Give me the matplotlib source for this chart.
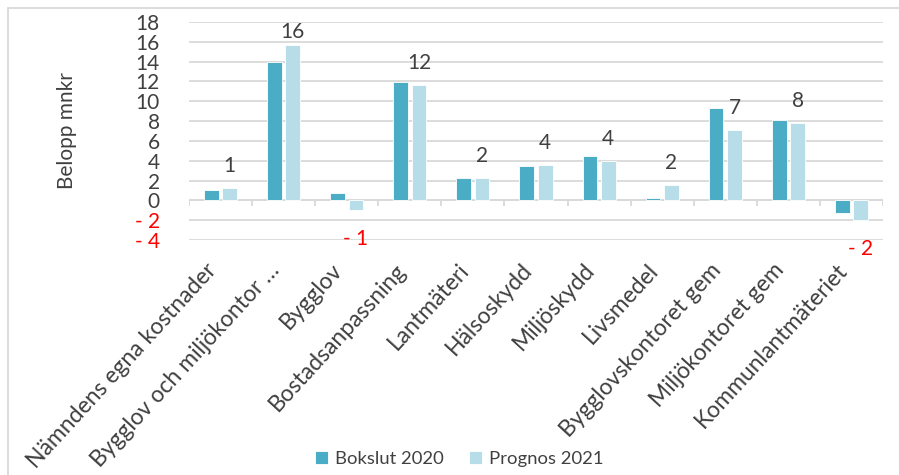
import matplotlib
matplotlib.use('Agg')
import matplotlib.pyplot as plt
import matplotlib.patches as mpatches
import numpy as np

plt.rcParams['font.family'] = ['Lato', 'DejaVu Sans']

# Data (mnkr)
categories = ['Nämndens egna kostnader', 'Bygglov och miljökontor …', 'Bygglov',
              'Bostadsanpassning', 'Lantmäteri', 'Hälsoskydd', 'Miljöskydd',
              'Livsmedel', 'Bygglovskontoret gem', 'Miljökontoret gem',
              'Kommunlantmäteriet']
bokslut_2020 = [1.08, 13.97, 0.78, 11.95, 2.22, 3.50, 4.44, 0.20, 9.36, 8.08, -1.24]
prognos_2021 = [1.28, 15.70, -0.94, 11.68, 2.29, 3.57, 3.94, 1.52, 7.10, 7.80, -1.95]
y_ticks = [-4, -2, 0, 2, 4, 6, 8, 10, 12, 14, 16, 18]
y_tick_labels = ['- 4', '- 2', '0', '2', '4', '6', '8', '10', '12', '14', '16', '18']

c_bokslut = '#4BACC6'
c_prognos = '#B7DEE8'
txt = '#404040'
grid_c = '#D9D9D9'

fig = plt.figure(figsize=(8.99, 4.75), dpi=100)
ax = fig.add_axes([189 / 899, 1 - 240 / 475, 694 / 899, 218 / 475])

x = np.arange(len(categories))
w = 0.233
off = 0.146
ax.bar(x - off, bokslut_2020, w, color=c_bokslut, edgecolor='white', linewidth=0.6,
       label='Bokslut 2020', zorder=3)
ax.bar(x + off, prognos_2021, w, color=c_prognos, edgecolor='white', linewidth=0.6,
       label='Prognos 2021', zorder=3)

ax.set_xlim(-0.5, len(categories) - 0.5)
ax.set_ylim(-4, 18)
ax.set_yticks(y_ticks)
ax.set_yticklabels(y_tick_labels)
for lab, v in zip(ax.get_yticklabels(), y_ticks):
    lab.set_color('red' if v < 0 else txt)
ax.tick_params(axis='y', length=0, pad=21, labelsize=15)
ax.yaxis.grid(True, color=grid_c, linewidth=1.3, zorder=0)
ax.set_axisbelow(True)
for s in ax.spines.values():
    s.set_visible(False)

# zero line with category separators
ax.axhline(0, color=grid_c, linewidth=1.3, zorder=2)
bounds = np.arange(len(categories) + 1) - 0.5
ax.vlines(bounds, -0.6, 0, color=grid_c, linewidth=1.3, zorder=2)

ax.set_xticks(x)
ax.set_xticklabels(categories, rotation=47.5, ha='right', va='top',
                   fontsize=16.5, color=txt)
ax.tick_params(axis='x', length=0, pad=14)

ax.set_ylabel('Belopp mnkr', fontsize=15, color=txt)
ax.yaxis.set_label_coords(-0.161, 0.5)

# data labels (rounded forecast), kept inside the plot area like Excel does
ytop = ax.get_ylim()[1]
for xi, v in zip(x, prognos_2021):
    r = int(round(v))
    if r < 0:
        ax.annotate(f'- {abs(r)}', (xi + off, v), xytext=(0, -14),
                    textcoords='offset points', ha='center', va='top',
                    fontsize=15, color='red')
    else:
        yv = min(v, ytop - 3.2)
        ax.annotate(f'{r}', (xi + off, yv), xytext=(0, 8.7),
                    textcoords='offset points', ha='center', va='bottom',
                    fontsize=15, color=txt)

fig.legend(loc='center', bbox_to_anchor=(0.511, 0.034), ncol=2, frameon=False,
           fontsize=13.3, handlelength=0.7, handleheight=0.7, handletextpad=0.35,
           columnspacing=1.4, labelcolor=txt)

fig.patches.append(mpatches.Rectangle((7.5 / 899, -0.1), 1.2, 1.1 - 7.5 / 475,
                                      transform=fig.transFigure, fill=False,
                                      edgecolor=grid_c, linewidth=1.3))

fig.savefig('out.png', dpi=100)
